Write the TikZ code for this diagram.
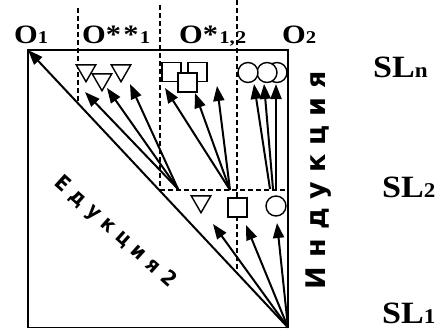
\documentclass[tikz,border=0pt]{standalone}
\usepackage{fontspec}
\setmainfont{Liberation Serif}
\newfontfamily\indfont{DejaVu Sans}
\newfontfamily\edufont{DejaVu Sans Condensed}
\usetikzlibrary{arrows.meta,shapes.geometric}
\newcommand{\olbl}[2]{\scalebox{1.15}[1]{\fontsize{26.5}{26.5}\selectfont\bfseries #1{\fontsize{18}{18}\selectfont #2}}}
\newcommand{\slbl}[1]{\scalebox{1.1}[1]{\fontsize{31}{31}\selectfont\bfseries SL{\fontsize{21}{21}\selectfont #1}}}
\tikzset{
  frame/.style={line width=1.8pt},
  guide/.style={line width=1.4pt, dash pattern=on 5pt off 3pt},
  arr/.style={line width=2pt, -{Triangle[length=15pt,width=11pt]}},
  tri/.style={regular polygon, regular polygon sides=3, shape border rotate=180, draw, fill=white, line width=1.4pt, minimum size=22.5pt, inner sep=0pt},
  sq/.style={rectangle, draw, fill=white, line width=1.4pt, minimum size=19pt, inner sep=0pt},
  circ/.style={circle, draw, fill=white, line width=1.4pt, minimum size=20pt, inner sep=0pt},
  lbl/.style={anchor=base west, inner sep=0pt}
}
\begin{document}
\begin{tikzpicture}[x=1pt,y=-1pt]
\useasboundingbox (0,0) rectangle (443,329);
% frame corners
\coordinate (TL) at (28,50);
\coordinate (TR) at (288,50);
\coordinate (BL) at (28,327.5);
\coordinate (BR) at (288,327.5);
\draw[frame] (TL) -- (TR) -- (BR) -- (BL) -- cycle;
% dashed guides
\coordinate (g1t) at (78,8);  \coordinate (g1b) at (78,103);
\coordinate (g2t) at (160,5); \coordinate (g2b) at (160,190);
\coordinate (g3t) at (237,0); \coordinate (g3b) at (237,273);
\coordinate (hl) at (160,190); \coordinate (hr) at (288,190);
\draw[guide] (g1t) -- (g1b);
\draw[guide] (g2t) -- (g2b);
\draw[guide] (g3t) -- (g3b);
\draw[guide] (hl) -- (hr);
% labels
\node[lbl] (o1) at (14,44) {\olbl{O}{1}};
\node[lbl] (o11) at (82,44) {\olbl{O*\kern2pt*\kern1pt}{1}};
\node[lbl] (o12) at (179,44) {\olbl{O*\kern1pt}{1,\kern1pt2}};
\node[lbl] (o2) at (282,44) {\olbl{O}{2}};
\node[lbl] (sln) at (373,77) {\slbl{n}};
\node[lbl] (sl2) at (382,197) {\slbl{2}};
\node[lbl] (sl1) at (382,323) {\slbl{1}};
\node[rotate=90, anchor=base, inner sep=0pt] (ind) at (325,180) {\fontsize{27}{27}\selectfont\indfont\bfseries И\kern9pt н\kern9pt д\kern9pt у\kern9pt к\kern9pt ц\kern9pt и\kern9pt я};
\node[rotate=-42, inner sep=0pt] (edu) at (115,232) {\fontsize{21}{21}\selectfont\edufont\bfseries Е\kern7pt д\kern7pt у\kern7pt к\kern7pt ц\kern7pt и\kern7pt я\kern7pt 2};
% main diagonal
\draw[arr] (BR) -- (TL);
% bottom shapes
\node[tri] (bt) at (201,201.5) {};
\node[sq] (bs) at (237.5,207.5) {};
\node[circ] (bc) at (276,206) {};
% top shapes
\node[tri] (t1) at (86,70.5) {};
\node[tri] (t3) at (121,70.5) {};
\node[tri] (t2) at (102,79.5) {};
\node[sq] (s1) at (171.5,72) {};
\node[sq] (s2) at (197.5,72) {};
\node[sq] (s3) at (187.5,82.5) {};
\node[circ] (c3) at (277,72.5) {};
\node[circ] (c2) at (267,72.5) {};
\node[circ] (c1) at (248,72.5) {};
% origins
\coordinate (ot) at (178,189);
\coordinate (os) at (230,190);
\coordinate (oc1) at (270,189);
\coordinate (oc2) at (273,189);
\coordinate (oc3) at (276,189);
% tips
\coordinate (at1) at (85,92);
\coordinate (at2) at (107,88);
\coordinate (at3) at (130,84);
\coordinate (as1) at (165,88);
\coordinate (as2) at (195,93);
\coordinate (as3) at (217,86);
\coordinate (ac1) at (254,84);
\coordinate (ac2) at (264,84);
\coordinate (ac3) at (276,84);
\coordinate (ab1) at (213,224);
\coordinate (ab2) at (246,225);
\coordinate (ab3) at (277,223);
\draw[arr] (ot) -- (at1);
\draw[arr] (ot) -- (at2);
\draw[arr] (ot) -- (at3);
\draw[arr] (os) -- (as1);
\draw[arr] (os) -- (as2);
\draw[arr] (os) -- (as3);
\draw[arr] (oc1) -- (ac1);
\draw[arr] (oc2) -- (ac2);
\draw[arr] (oc3) -- (ac3);
\draw[arr] (BR) -- (ab1);
\draw[arr] (BR) -- (ab2);
\draw[arr] (BR) -- (ab3);
\end{tikzpicture}
\end{document}
